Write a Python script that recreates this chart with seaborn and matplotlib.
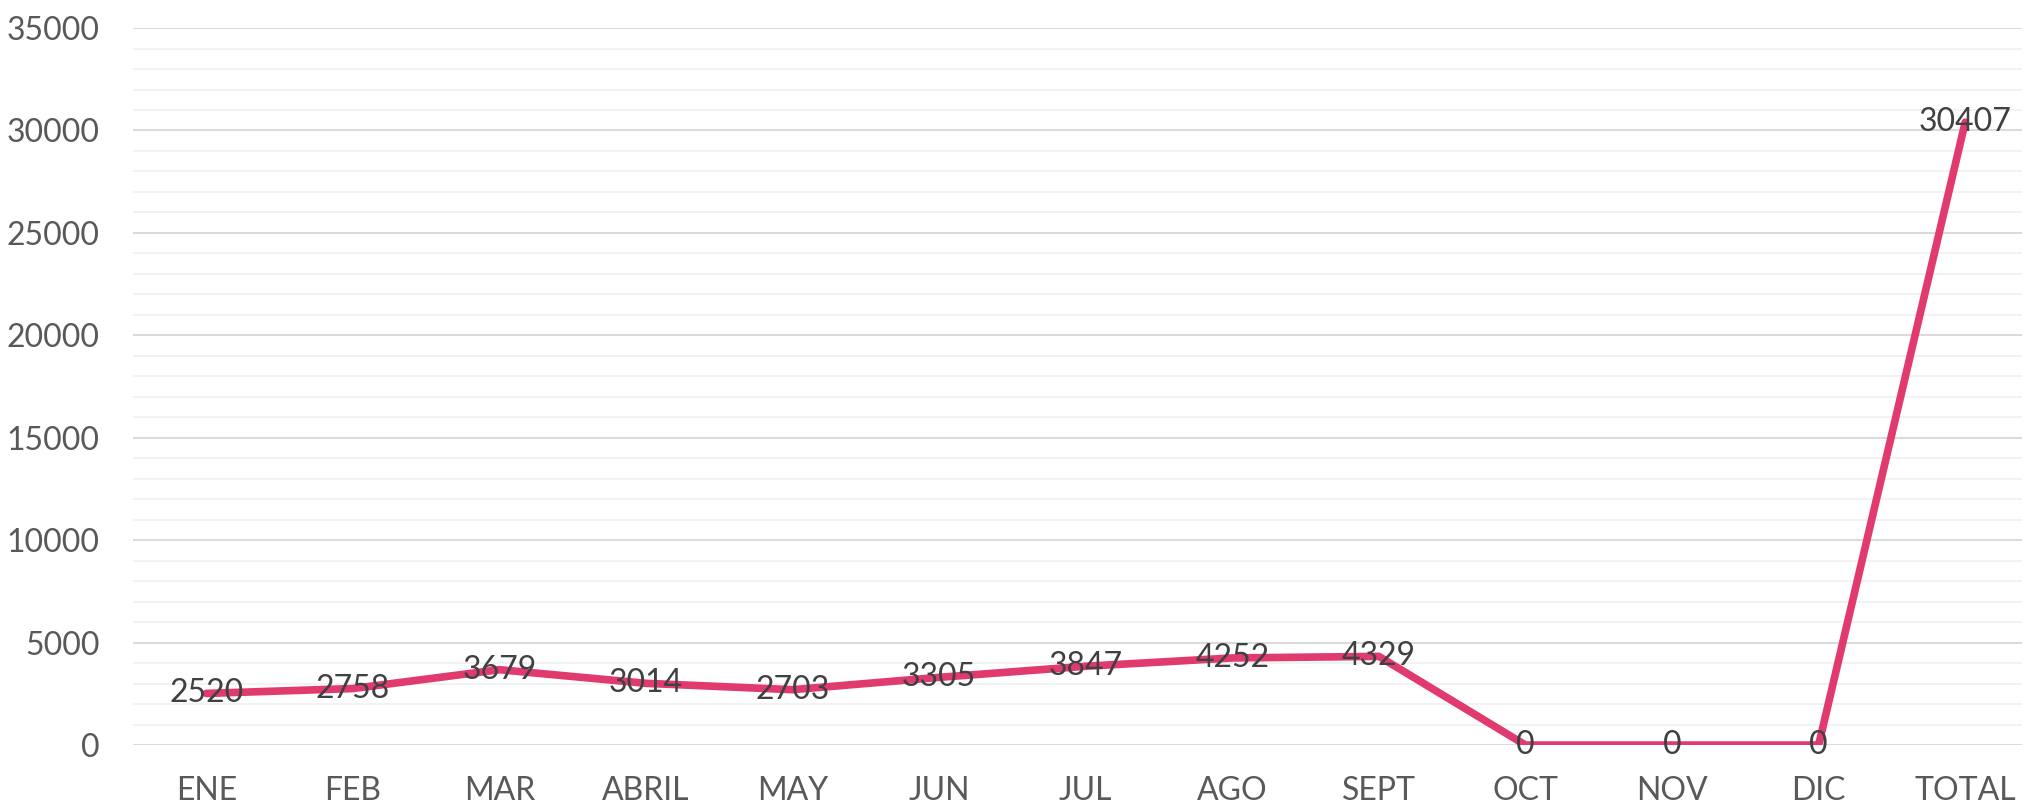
import matplotlib
matplotlib.use("Agg")
import matplotlib.pyplot as plt
import seaborn as sns
import pandas as pd
from matplotlib.ticker import MultipleLocator

months = ["ENE", "FEB", "MAR", "ABRIL", "MAY", "JUN", "JUL", "AGO", "SEPT", "OCT", "NOV", "DIC", "TOTAL"]
values = [2520, 2758, 3679, 3014, 2703, 3305, 3847, 4252, 4329, 0, 0, 0, 30407]

sns.set_theme(style="white")
plt.rcParams["font.family"] = ["Lato", "DejaVu Sans"]

df = pd.DataFrame({"mes": months, "valor": values})

fig = plt.figure(figsize=(20.23, 8.02), dpi=100)
ax = fig.add_axes([0.0657, 0.071, 0.934, 0.894])

sns.lineplot(data=df, x="mes", y="valor", sort=False, ax=ax, color="#E03A6F", linewidth=5.5)

ax.set_ylim(0, 35000)
ax.set_xlim(-0.5, 12.39)
ax.yaxis.set_major_locator(MultipleLocator(5000))
ax.yaxis.set_minor_locator(MultipleLocator(1000))
ax.grid(which="major", axis="y", color="#D9D9D9", linewidth=1.4)
ax.grid(which="minor", axis="y", color="#F2F2F2", linewidth=1.4)
ax.grid(axis="x", visible=False)
ax.set_axisbelow(True)
for s in ax.spines.values():
    s.set_visible(False)
ax.set_xlabel("")
ax.set_ylabel("")
ax.tick_params(axis="both", which="both", length=0, labelsize=23, labelcolor="#595959")
ax.tick_params(axis="y", pad=24)
ax.tick_params(axis="x", pad=22)

for i, v in enumerate(values):
    ax.text(i, v, str(v), ha="center", va="center", fontsize=23, color="#404040")

fig.savefig("out.png", dpi=100)
